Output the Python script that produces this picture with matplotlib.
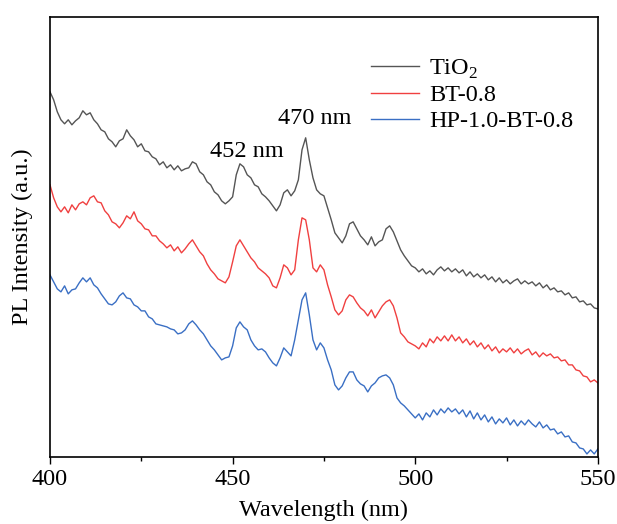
import numpy as np
import matplotlib
matplotlib.use("Agg")
import matplotlib.pyplot as plt
from matplotlib.ticker import MultipleLocator

plt.rcParams['font.family'] = ['Liberation Serif', 'DejaVu Serif']
plt.rcParams['mathtext.fontset'] = 'custom'
plt.rcParams['mathtext.rm'] = 'Liberation Serif'

# wavelength grid (nm), one reading per nm
wavelength = list(range(400, 551))

# readings (pixel rows, converted to arbitrary units below)
tio2_px = [92, 100, 112, 120, 124, 120, 125, 121, 118, 111, 115, 113, 120, 124, 130, 132, 139, 142, 147, 141,
           139, 130, 136, 140, 147, 144, 151, 152, 157, 159, 165, 162, 168, 165, 170, 166, 171, 169, 168, 162,
           164, 172, 175, 182, 185, 192, 195, 201, 204, 201, 197, 175, 164, 167, 175, 178, 185, 187, 194, 197,
           201, 206, 211, 205, 193, 190, 196, 191, 180, 150, 138, 160, 178, 190, 194, 196, 208, 220, 233, 238,
           243, 236, 224, 222, 229, 236, 240, 245, 237, 246, 242, 240, 229, 226, 232, 241, 250, 256, 261, 266,
           268, 272, 269, 274, 271, 275, 270, 267, 271, 268, 272, 269, 273, 270, 276, 272, 277, 274, 278, 275,
           280, 277, 282, 278, 283, 280, 284, 281, 279, 284, 281, 284, 282, 286, 283, 288, 285, 290, 288, 292,
           291, 295, 293, 298, 297, 302, 301, 305, 304, 308, 309]
bt_px = [185, 198, 207, 212, 207, 213, 205, 210, 204, 202, 205, 198, 196, 202, 203, 211, 215, 222, 224, 228,
         223, 216, 219, 212, 221, 224, 229, 230, 236, 236, 241, 244, 248, 245, 251, 247, 253, 249, 244, 240,
         246, 252, 256, 264, 270, 274, 279, 281, 283, 277, 262, 246, 240, 246, 252, 258, 262, 268, 271, 274,
         278, 286, 288, 278, 265, 268, 275, 270, 240, 218, 220, 240, 268, 272, 265, 270, 285, 297, 310, 315,
         311, 300, 295, 297, 303, 308, 311, 316, 310, 318, 312, 306, 302, 300, 306, 318, 333, 337, 342, 344,
         346, 349, 343, 347, 339, 343, 337, 341, 336, 341, 335, 341, 337, 343, 339, 345, 341, 347, 343, 349,
         345, 351, 347, 353, 349, 352, 348, 353, 349, 354, 351, 349, 355, 352, 357, 353, 356, 354, 358, 357,
         361, 360, 365, 365, 370, 371, 376, 377, 382, 380, 383]
hp_px = [275, 282, 289, 292, 286, 294, 290, 289, 283, 278, 282, 278, 285, 288, 294, 299, 304, 305, 302, 296,
         293, 298, 299, 305, 307, 311, 311, 317, 319, 324, 325, 326, 327, 329, 330, 334, 333, 330, 324, 321,
         325, 330, 334, 340, 346, 350, 355, 360, 358, 357, 346, 328, 322, 327, 330, 340, 346, 350, 349, 352,
         358, 363, 366, 358, 348, 352, 356, 340, 320, 300, 293, 315, 340, 350, 343, 348, 360, 370, 385, 390,
         386, 378, 372, 372, 380, 384, 386, 392, 386, 383, 378, 376, 375, 378, 385, 398, 403, 406, 410, 414,
         418, 414, 420, 413, 417, 410, 415, 409, 413, 408, 412, 409, 414, 410, 417, 411, 419, 413, 420, 415,
         422, 417, 424, 419, 423, 418, 425, 420, 426, 421, 425, 420, 424, 427, 422, 428, 425, 430, 429, 434,
         432, 437, 436, 442, 443, 448, 449, 454, 450, 454, 449]

tio2 = [460 - v for v in tio2_px]
bt = [460 - v for v in bt_px]
hp = [460 - v for v in hp_px]

fig = plt.figure(figsize=(6.17, 5.24), dpi=100)
ax = fig.add_axes([0.081, 0.128, 0.888, 0.840])

ax.plot(wavelength, tio2, color="#555555", lw=1.0, label="TiO$_2$")
ax.plot(wavelength, bt, color="#f04040", lw=1.0, label="BT-0.8")
ax.plot(wavelength, hp, color="#3a6fc4", lw=1.0, label="HP-1.0-BT-0.8")

ax.set_xlim(400, 550)
ax.set_ylim(3, 443)
ax.xaxis.set_major_locator(MultipleLocator(50))
ax.xaxis.set_minor_locator(MultipleLocator(25))
ax.tick_params(axis="x", which="major", direction="out", length=5, width=1, labelsize=17.5, pad=4)
ax.tick_params(axis="x", which="minor", direction="out", length=3, width=1)
ax.set_yticks([])
for s in ax.spines.values():
    s.set_linewidth(1.2)

ax.set_xlabel("Wavelength (nm)", fontsize=17.5, labelpad=7)
ax.set_ylabel("PL Intensity (a.u.)", fontsize=17.5, labelpad=12)

ax.text(453.9, 308, "452 nm", fontsize=17.5, ha="center", va="center")
ax.text(472.5, 341, "470 nm", fontsize=17.5, ha="center", va="center")

ax.legend(loc="upper left", bbox_to_anchor=(0.554, 0.946), frameon=False, fontsize=17.5,
          handlelength=2.0, labelspacing=0.15, handletextpad=0.4, borderpad=0.2)

fig.savefig("out.png", dpi=100)
